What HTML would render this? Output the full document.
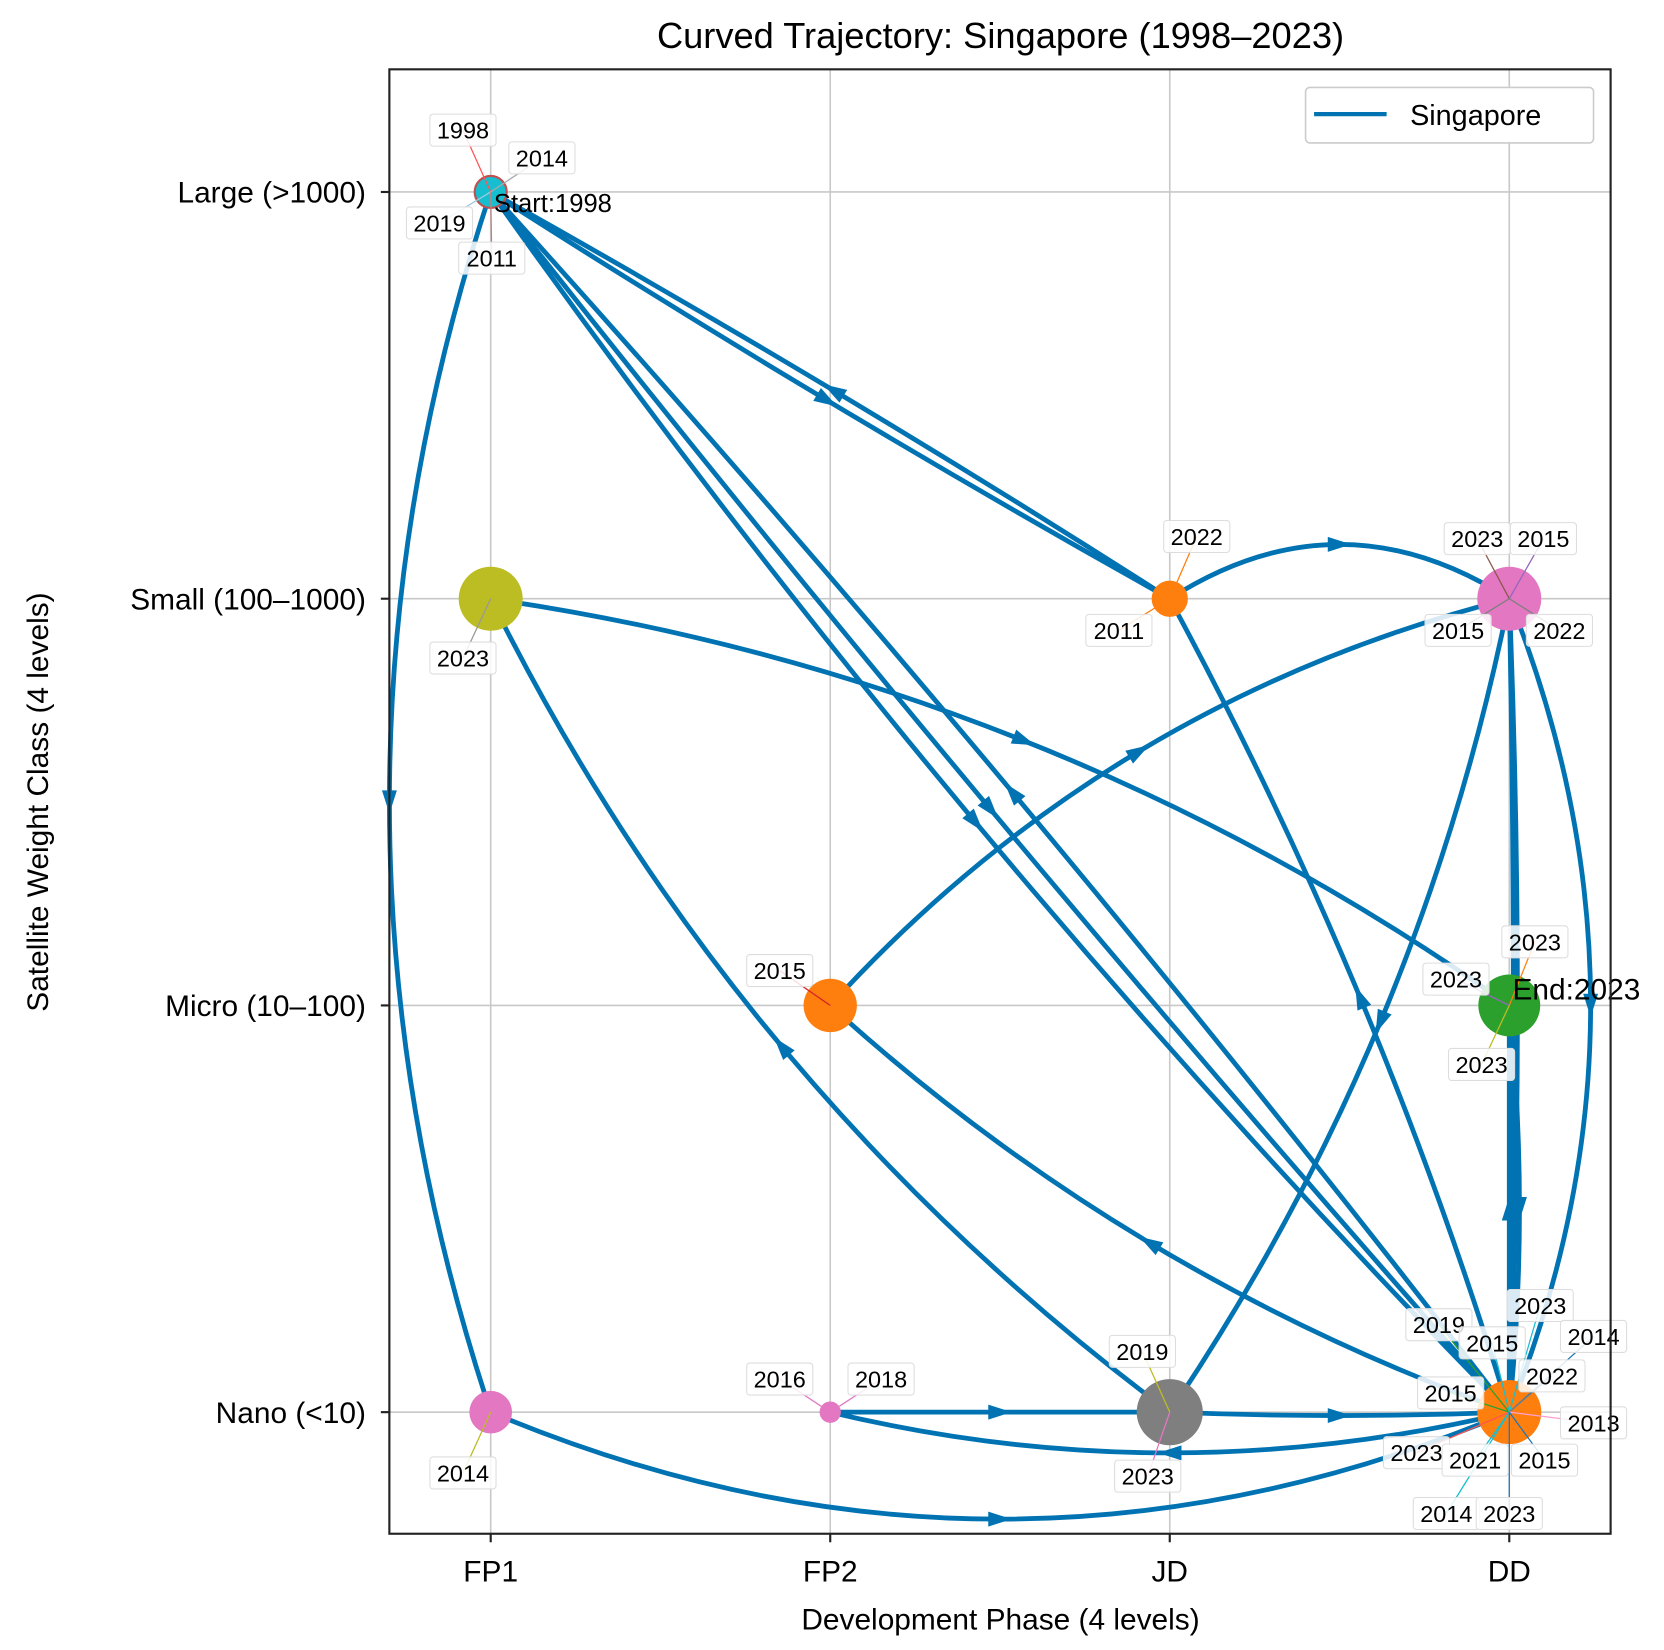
<!DOCTYPE html>
<html><head><meta charset="utf-8"><style>body{margin:0;background:#fff}svg{display:block}</style></head>
<body>
<svg width="1664" height="1650" viewBox="0 0 1560 1547" xmlns="http://www.w3.org/2000/svg" font-family="Liberation Sans, DejaVu Sans, sans-serif">
<rect width="1560" height="1547" fill="#fff"/>
<g id="grid"></g>
<g id="curves"></g>
<g id="nodes"></g>
<g id="ann"></g>
<rect x="365" y="65" width="1145" height="1373" fill="none" stroke="#222" stroke-width="2"/>
<g id="ticks"></g>
<text x="938" y="45" font-size="34" text-anchor="middle">Curved Trajectory: Singapore (1998–2023)</text>
<text x="938" y="1528" font-size="28" text-anchor="middle">Development Phase (4 levels)</text>
<text transform="translate(45,752) rotate(-90)" font-size="28" text-anchor="middle">Satellite Weight Class (4 levels)</text>
<g>
<rect x="1224" y="82" width="270" height="52" rx="4" fill="#fff" stroke="#ccc" stroke-width="1.5"/>
<line x1="1232" y1="107" x2="1300" y2="107" stroke="#0173b2" stroke-width="4"/>
<text x="1322" y="117" font-size="27">Singapore</text>
</g>
</svg>
<script>
const phases=["FP1","FP2","JD","DD"];
const weights=["Nano (<10)","Micro (10–100)","Small (100–1000)","Large (>1000)"];
// transitions: from phase, from weight, to phase, to weight, bend
const fromP=[0,0,3,0,2,0,0,2,1,3,1,2,3,3,2,3,3,3,3,0,3,3];
const fromW=[3,3,0,3,2,3,2,0,1,0,0,0,0,2,2,0,0,2,1,0,2,0];
const toP  =[3,3,0,2,0,0,3,0,3,1,2,3,1,2,3,2,3,3,3,3,3,3];
const toW  =[0,0,3,2,3,0,1,2,2,1,0,0,0,0,2,2,2,0,0,0,0,1];
const bend =[0.04,0.015,0.02,0.015,0.015,0.166,-0.12,-0.12,-0.15,-0.1,0,0.02,-0.12,-0.1,-0.32,0.05,0.01,-0.2,-0.05,0.21,-0.02,0.0];
// nodes
const nodeP=[0,0,0,1,1,2,2,3,3,3];
const nodeW=[3,2,0,1,0,2,0,2,1,0];
const nodeR=[15,30,20,25,10,17,31,30,29,30];
const nodeC=["#17becf","#bcbd22","#e377c2","#ff7f0e","#e377c2","#ff7f0e","#7f7f7f","#e377c2","#2ca02c","#ff7f0e"];
// annotations: text, box center x, box center y, node index
const annT=["1998","2014","2019","2011","2023","2014","2015","2016","2018","2022","2011","2019","2023","2023","2015","2015","2022","2023","2023","2023","2019","2015","2023","2014","2022","2015","2013","2023","2021","2015","2014","2023"];
const annX=[434,508,412,461,434,434,731,731,826,1122,1049,1071,1076,1385,1447,1367,1462,1439,1365,1389,1349,1399,1444,1494,1455,1360,1494,1328,1383,1448,1356,1415];
const annY=[122,148,209,242,617,1381,910,1293,1293,503,591,1267,1384,505,505,591,591,883,918,998,1242,1259,1224,1253,1290,1306,1334,1362,1369,1369,1419,1419];
const annN=[0,0,0,0,1,2,3,4,4,5,5,6,6,7,7,7,7,8,8,8,9,9,9,9,9,9,9,9,9,9,9,9];
const lineC=["#ff5555","#aaaaaa","#9ecae1","#c08080","#999","#bcbd22","#d62728","#e377c2","#e377c2","#ff7f0e","#ff7f0e","#bcbd22","#e377c2","#8c564b","#9467bd","#7f7f7f","#7f7f7f","#ff7f0e","#9467bd","#bcbd22","#2ca02c","#17becf","#17becf","#1f77b4","#7f7f7f","#2ca02c","#ff9fcf","#ff5555","#17becf","#1f77b4","#17becf","#1f77b4"];
const X0=365,X1=1510,Y0=65,Y1=1438;
function xs(i){return 460+i*(1415-460)/3;}
function ys(j){return 1324-j*(1324-180)/3;}
const NS="http://www.w3.org/2000/svg";
function mk(t,a,p){const e=document.createElementNS(NS,t);for(const k in a)e.setAttribute(k,a[k]);document.getElementById(p).appendChild(e);return e;}
phases.forEach((p,i)=>{
 const g=mk('line',{x1:xs(i),x2:xs(i),y1:Y0,y2:Y1,stroke:'#c8c8c8','stroke-width':1.5},'grid');
 
 
 mk('line',{x1:xs(i),x2:xs(i),y1:Y1,y2:Y1+8,stroke:'#222','stroke-width':2},'ticks');
 const t=mk('text',{x:xs(i),y:Y1+45,'font-size':28,'text-anchor':'middle'},'ticks');t.textContent=p;
 
 
});
weights.forEach((w,j)=>{
 const g=mk('line',{x1:X0,x2:X1,y1:ys(j),y2:ys(j),stroke:'#c8c8c8','stroke-width':1.5},'grid');
 
 
 mk('line',{x1:X0-8,x2:X0,y1:ys(j),y2:ys(j),stroke:'#222','stroke-width':2},'ticks');
 const t=mk('text',{x:X0-22,y:ys(j)+10,'font-size':28,'text-anchor':'end'},'ticks');t.textContent=w;
 
 
});
for(let k=0;k<fromP.length;k++){
 const ax=xs(fromP[k]),ay=ys(fromW[k]),bx=xs(toP[k]),by=ys(toW[k]);
 const dx=bx-ax,dy=by-ay;
 const cx=(ax+bx)/2-bend[k]*dy,cy=(ay+by)/2+bend[k]*dx;
 const p=mk('path',{d:`M${ax},${ay} Q${cx},${cy} ${bx},${by}`,fill:'none',stroke:'#0173b2','stroke-width':4.5},'curves');
 
 
 const mx=.25*ax+.5*cx+.25*bx,my=.25*ay+.5*cy+.25*by;
 let tx=(bx-ax),ty=(by-ay);const L=Math.hypot(tx,ty)||1;tx/=L;ty/=L;
 const s=11;
 const pts=[[mx+tx*s,my+ty*s],[mx-tx*s-ty*7,my-ty*s+tx*7],[mx-tx*s+ty*7,my-ty*s-tx*7]];
 const a=mk('polygon',{points:pts.map(q=>q.join(',')).join(' '),fill:'#0173b2'},'curves');
 
 
}
for(let n=0;n<nodeP.length;n++){
 const c=mk('circle',{cx:xs(nodeP[n]),cy:ys(nodeW[n]),r:nodeR[n],fill:nodeC[n],stroke:n==0?'#c0504d':'none','stroke-width':2},'nodes');
 
 
}
for(let a=0;a<annT.length;a++){
 const n=annN[a],nx=xs(nodeP[n]),ny=ys(nodeW[n]);
 const l=mk('line',{x1:annX[a],y1:annY[a],x2:nx,y2:ny,stroke:lineC[a],'stroke-width':1.2},'ann');
 
 
}
for(let a=0;a<annT.length;a++){
 const r=mk('rect',{x:annX[a]-31,y:annY[a]-15,width:62,height:30,rx:3,fill:'#fff','fill-opacity':0.85,stroke:'#ddd','stroke-width':1},'ann');
 
 
 const t=mk('text',{x:annX[a],y:annY[a]+8,'font-size':22,'text-anchor':'middle'},'ann');t.textContent=annT[a];
 
 
}
const s1=mk('text',{x:463,y:199,'font-size':24},'ann');s1.textContent='Start:1998';


const s2=mk('text',{x:1418,y:937,'font-size':28},'ann');s2.textContent='End:2023';


</script>
</body></html>
